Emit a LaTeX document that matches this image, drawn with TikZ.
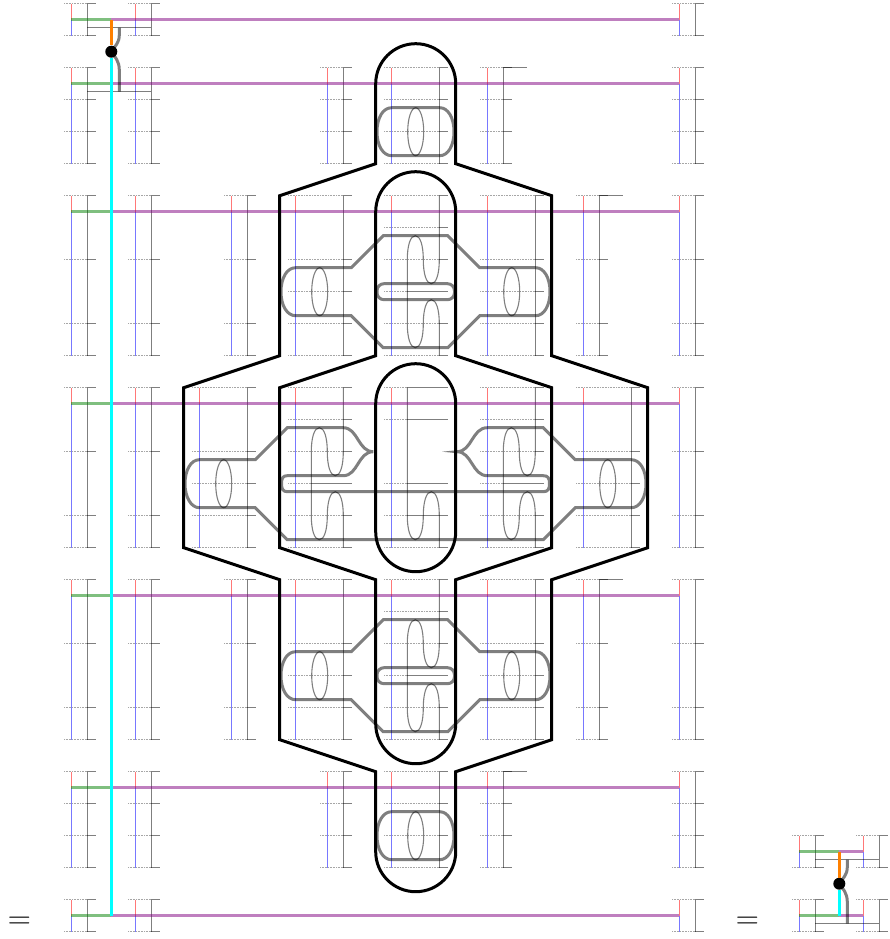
\documentclass[tikz,border=0pt]{standalone}
\usepackage{amsmath}
\usepackage{tikz}
\usepackage{xcolor}

\definecolor{wirecyan}{RGB}{0,255,255}
\definecolor{wireorange}{RGB}{255,128,0}
\definecolor{wirered}{RGB}{255,120,120}
\definecolor{wireblue}{RGB}{120,120,255}

% ticks of one column: left end, start of the solid part, right end, list of heights
\newcommand{\tickrow}[4]{
	\foreach \ty in {#4} {
		\draw[tickdots] (#1,\ty) -- (#2,\ty);
		\draw[ticksolid] (#2,\ty) -- (#3,\ty);
	}
}
% red and blue wire: x, top, bottom
\newcommand{\colorwire}[3]{
	\draw[redwire] (#1,#2) -- (#1,#2+16);
	\draw[bluewire] (#1,#2+16) -- (#1,#3);
}
% plain column: red x, black x, top, bottom, ticks
\newcommand{\plaincol}[5]{
	\tickrow{#1-7.3}{#2}{#2+8.4}{#5}
	\colorwire{#1}{#3}{#4}
	\draw[thinwire] (#2,#3) -- (#2,#4);
}
% lower half of the twisted black wire: black x, centre y, end y
\newcommand{\twistlow}[3]{
	(#1-32,#2+32) .. controls (#1-32,#2+46) and (#1-29,#2+56) .. (#1-24,#2+56)
	.. controls (#1-19,#2+56) and (#1-16,#2+46) .. (#1-16,#2+32)
	.. controls (#1-16,#2+18) and (#1-13,#2+8) .. (#1-8,#2+8)
	.. controls (#1-3,#2+8) and (#1,#2+18) .. (#1,#2+32) -- (#1,#3)
}
% whole twisted black wire: black x, centre y, start y, end y
\newcommand{\twistwire}[4]{
	\draw[thinwire] (#1,#3) -- (#1,#2-32) .. controls (#1,#2-18) and (#1-3,#2-8) .. (#1-8,#2-8)
	.. controls (#1-13,#2-8) and (#1-16,#2-18) .. (#1-16,#2-32)
	.. controls (#1-16,#2-46) and (#1-19,#2-56) .. (#1-24,#2-56)
	.. controls (#1-29,#2-56) and (#1-32,#2-46) .. (#1-32,#2-32)
	-- \twistlow{#1}{#2}{#4};
}
% two-row gate at the upper left; repeated small at the lower right
\newcommand{\crossgate}[1]{
	\draw[thinwire] (87.3,27.7) -- (151.3,27.7);
	\draw[thinwire] (87.3,91.7) -- (151.3,91.7);
	\draw[graywire] (119.3,27.7) -- (119.3,35) .. controls (119.3,43) and (115,46) .. (111.3,51.7)
		.. controls (115,57) and (119.3,61) .. (119.3,70) -- (119.3,91.7);
	\coordinate (#1start) at (111.3,19.7);
	\node[junction] (#1) at (111.3,51.7) {};
	\draw[orangewire] (#1start) -- (#1);
}

\begin{document}
\begin{tikzpicture}[x=1pt,y=-1pt,
	tickdots/.style={black,opacity=0.35,line width=0.6pt,densely dotted},
	ticksolid/.style={black,opacity=0.5,line width=0.7pt},
	redwire/.style={draw=wirered,line width=1.2pt},
	bluewire/.style={draw=wireblue,line width=1.2pt},
	thinwire/.style={black,opacity=0.5,line width=1.1pt},
	greenwire/.style={green!50!black,opacity=0.5,line width=3.2pt},
	purplewire/.style={violet,opacity=0.5,line width=3.2pt},
	cyanwire/.style={wirecyan,line width=3pt},
	orangewire/.style={wireorange,line width=3pt},
	graywire/.style={black,opacity=0.5,line width=3pt},
	contour/.style={black,line width=3pt},
	junction/.style={circle,fill=black,inner sep=0pt,minimum size=12pt},
	equalsign/.style={inner sep=0pt,font=\fontsize{32}{32}\selectfont}]
	\useasboundingbox (0,0) rectangle (889,939);

	% Columns, row 0 and row 6
	\foreach \rt/\rb in {3.7/35.7,899.7/931.7} {
		\foreach \cx/\bx in {71.3/87.3,135.3/151.3,679.3/695.3} {
			\plaincol{\cx}{\bx}{\rt}{\rb}{\rt,\rb}
		}
	}

	% Columns, row 1 and row 5
	\foreach \rt in {67.7,771.7} {
		\foreach \cx/\bx in {71.3/87.3,135.3/151.3,327.3/343.3,391.3/439.3,487.3/503.3,679.3/695.3} {
			\plaincol{\cx}{\bx}{\rt}{\rt+96}{\rt,\rt+32,\rt+64,\rt+96}
		}
		\draw[ticksolid] (503.3,\rt) -- (527.3,\rt);
	}

	% Columns, row 2 and row 4
	\foreach \rt in {195.7,579.7} {
		\foreach \cx/\bx in {71.3/87.3,135.3/151.3,231.3/247.3,583.3/599.3,679.3/695.3} {
			\plaincol{\cx}{\bx}{\rt}{\rt+160}{\rt,\rt+64,\rt+128,\rt+160}
		}
		\foreach \cx/\bx in {295.3/343.3,487.3/535.3} {
			\plaincol{\cx}{\bx}{\rt}{\rt+160}{\rt,\rt+64,\rt+96,\rt+128,\rt+160}
		}
		\draw[ticksolid] (599.3,\rt) -- (623.3,\rt);
		\tickrow{384}{439.3}{447.7}{\rt,\rt+32,\rt+64,\rt+128,\rt+160}
		\tickrow{384}{407.3}{447.7}{\rt+96}
		\colorwire{391.3}{\rt}{\rt+160}
		\twistwire{439.3}{\rt+96}{\rt}{\rt+160}
	}

	% Columns, row 3
	\foreach \cx/\bx in {71.3/87.3,135.3/151.3,679.3/695.3} {
		\plaincol{\cx}{\bx}{387.7}{547.7}{387.7,451.7,515.7,547.7}
	}
	\foreach \cx/\bx in {199.3/247.3,583.3/631.3} {
		\plaincol{\cx}{\bx}{387.7}{547.7}{387.7,451.7,483.7,515.7,547.7}
	}
	\foreach \cx in {295.3,487.3} {
		\tickrow{\cx-7.3}{\cx+48}{\cx+56.4}{387.7,419.7,451.7,515.7,547.7}
		\tickrow{\cx-7.3}{\cx+16}{\cx+56.4}{483.7}
		\colorwire{\cx}{387.7}{547.7}
		\twistwire{\cx+48}{483.7}{387.7}{547.7}
	}
	\tickrow{384}{407.3}{447.7}{387.7,419.7,483.7,515.7}
	\tickrow{384}{439.3}{447.7}{547.7}
	\colorwire{391.3}{387.7}{547.7}
	\draw[thinwire] (407.3,387.7) -- \twistlow{439.3}{483.7}{547.7};

	% Small columns, lower right
	\foreach \rt in {835.7,899.7} {
		\foreach \cx/\bx in {799.3/815.3,863.3/879.3} {
			\plaincol{\cx}{\bx}{\rt}{\rt+32}{\rt,\rt+32}
		}
	}

	% Purple and green wires
	\foreach \py in {19.7,83.7,211.7,403.7,595.7,787.7,915.7} {
		\draw[greenwire] (71.3,\py) -- (111.3,\py);
		\draw[purplewire] (111.3,\py) -- (679.3,\py);
	}
	\foreach \py in {851.7,915.7} {
		\draw[greenwire] (799.3,\py) -- (839.3,\py);
		\draw[purplewire] (839.3,\py) -- (863.3,\py);
	}

	% Capsules, row 1 and row 5
	\foreach \cy in {131.7,835.7} {
		\draw[graywire] (391.7,\cy-24) -- (439.7,\cy-24) .. controls (448,\cy-24) and (454,\cy-14) .. (454,\cy)
			.. controls (454,\cy+14) and (448,\cy+24) .. (439.7,\cy+24) -- (391.7,\cy+24)
			.. controls (383,\cy+24) and (377,\cy+14) .. (377,\cy)
			.. controls (377,\cy-14) and (383,\cy-24) .. (391.7,\cy-24) -- cycle;
		\draw[thinwire] (415.7,\cy) ellipse (8 and 24);
	}

	% Loops, row 2 and row 4
	\foreach \cy in {291.7,675.7} {
		\draw[graywire] (295.7,\cy-24) -- (351.3,\cy-24) -- (383.3,\cy-56) -- (447.7,\cy-56)
			-- (479.7,\cy-24) -- (535.7,\cy-24) .. controls (544,\cy-24) and (550,\cy-14) .. (550,\cy)
			.. controls (550,\cy+14) and (544,\cy+24) .. (535.7,\cy+24) -- (479.7,\cy+24)
			-- (447.7,\cy+56) -- (383.3,\cy+56) -- (351.3,\cy+24) -- (295.7,\cy+24)
			.. controls (287,\cy+24) and (281,\cy+14) .. (281,\cy)
			.. controls (281,\cy-14) and (287,\cy-24) .. (295.7,\cy-24) -- cycle;
		\draw[graywire,rounded corners=7pt] (377,\cy-8) rectangle (454.5,\cy+8);
		\draw[thinwire] (319.7,\cy) ellipse (8 and 24);
		\draw[thinwire] (511.7,\cy) ellipse (8 and 24);
	}

	% Big loop, row 3
	\draw[graywire] (199.3,459.7) -- (255.3,459.7) -- (287.3,427.7) -- (343.3,427.7)
		.. controls (358,427.7) and (358,451.7) .. (373.3,451.7)
		.. controls (358,451.7) and (358,475.7) .. (343.3,475.7) -- (287.3,475.7)
		.. controls (283,475.7) and (281.5,478) .. (281.5,483.7)
		.. controls (281.5,489) and (283,491.7) .. (287.3,491.7) -- (543.3,491.7)
		.. controls (548,491.7) and (549.5,489) .. (549.5,483.7)
		.. controls (549.5,478) and (548,475.7) .. (543.3,475.7) -- (487.3,475.7)
		.. controls (472,475.7) and (472,451.7) .. (457,451.7)
		.. controls (472,451.7) and (472,427.7) .. (487.3,427.7) -- (543.3,427.7)
		-- (575.3,459.7) -- (631.3,459.7) .. controls (640,459.7) and (646,470) .. (646,483.7)
		.. controls (646,497) and (640,507.7) .. (631.3,507.7) -- (575.3,507.7)
		-- (543.3,539.7) -- (287.3,539.7) -- (255.3,507.7) -- (199.3,507.7)
		.. controls (191,507.7) and (185,497) .. (185,483.7)
		.. controls (185,470) and (191,459.7) .. (199.3,459.7) -- cycle;
	\draw[thinwire] (223.7,483.7) ellipse (8 and 24);
	\draw[thinwire] (607.7,483.7) ellipse (8 and 24);

	% Outer contour
	\draw[contour] (375.7,83.7) arc[start angle=180,end angle=360,radius=40] -- (455.7,163.7)
		-- (551.7,195.7) -- (551.7,355.7) -- (647.7,387.7) -- (647.7,547.7) -- (551.7,579.7)
		-- (551.7,739.7) -- (455.7,771.7) -- (455.7,851.7) arc[start angle=0,end angle=180,radius=40]
		-- (375.7,771.7) -- (279.7,739.7) -- (279.7,579.7) -- (183.7,547.7) -- (183.7,387.7)
		-- (279.7,355.7) -- (279.7,195.7) -- (375.7,163.7) -- cycle;

	% Middle contour
	\draw[contour] (375.7,211.7) arc[start angle=180,end angle=360,radius=40] -- (455.7,355.7)
		-- (551.7,387.7) -- (551.7,547.7) -- (455.7,579.7) -- (455.7,723.7)
		arc[start angle=0,end angle=180,radius=40] -- (375.7,579.7) -- (279.7,547.7)
		-- (279.7,387.7) -- (375.7,355.7) -- cycle;

	% Inner contour
	\draw[contour] (375.7,403.7) arc[start angle=180,end angle=360,radius=40] -- (455.7,531.7)
		arc[start angle=0,end angle=180,radius=40] -- cycle;

	% Gate, upper left
	\coordinate (cyanend) at (111.3,915.7);
	\crossgate{gateA}
	\draw[cyanwire] (gateA) -- (cyanend);

	% Gate, lower right
	\begin{scope}[shift={(728,832)}]
		\crossgate{gateB}
		\coordinate (cyanendB) at (111.3,83.7);
		\draw[cyanwire] (gateB) -- (cyanendB);
	\end{scope}

	% Equal signs
	\node[equalsign] (eqleft) at (19.5,923) {=};
	\node[equalsign] (eqright) at (747.5,923) {=};
\end{tikzpicture}
\end{document}
